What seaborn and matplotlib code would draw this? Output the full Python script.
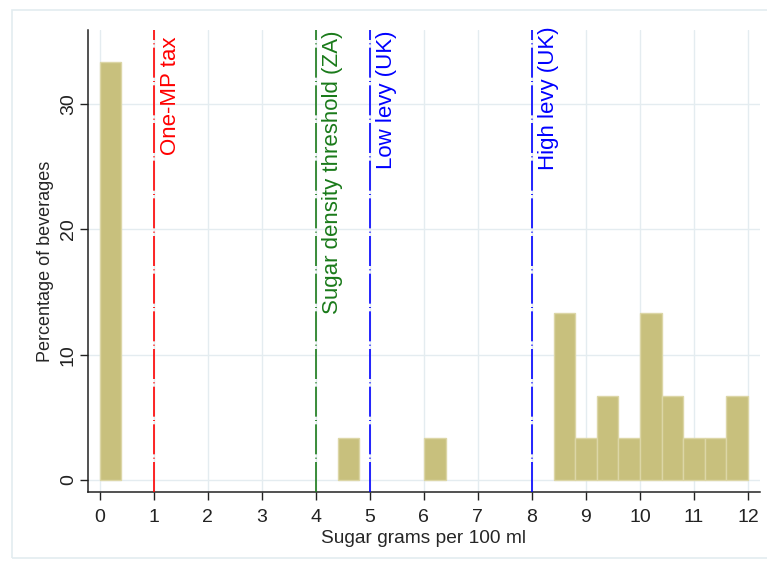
import matplotlib
matplotlib.use("Agg")
import matplotlib.pyplot as plt
from matplotlib.patches import Rectangle
import pandas as pd
import seaborn as sns

# histogram data (bin width 0.4 g, 30 beverages)
bin_mids = [0.2, 4.6, 6.2, 8.6, 9.0, 9.4, 9.8, 10.2, 10.6, 11.0, 11.4, 11.8]
pct = [33.33, 3.33, 3.33, 13.33, 3.33, 6.67, 3.33, 13.33, 6.67, 3.33, 3.33, 6.67]

# reference lines
thresholds = [1, 4, 5, 8]
thr_labels = ["One-MP tax", "Sugar density threshold (ZA)", "Low levy (UK)", "High levy (UK)"]
thr_colors = ["#ff0000", "#1a7a1a", "#0000ff", "#0000ff"]
thr_text_y = [35.4, 35.9, 35.9, 36.2]

xticks = list(range(0, 13))
yticks = [0, 10, 20, 30]

sns.set_theme(style="ticks")
plt.rcParams["font.family"] = ["Liberation Sans", "DejaVu Sans"]

df = pd.DataFrame({"sugar": bin_mids, "pct": pct})

fig = plt.figure(figsize=(7.67, 5.61), dpi=100)
# outer frame like Stata graph region
fig.patches.append(Rectangle((12 / 767, 0.005), 1.0, 1 - 10 / 561 - 0.005,
                             transform=fig.transFigure, fill=False,
                             edgecolor="#e3ecf0", lw=1.2))
ax = fig.add_axes([0.1147, 0.123, 0.876, 0.8235])

sns.histplot(data=df, x="sugar", weights="pct", binwidth=0.4, binrange=(0, 12),
             color="#c8c07d", edgecolor="#dcd6a6", linewidth=1.0, alpha=1,
             ax=ax, zorder=3)
# hide empty bins
for p in ax.patches:
    if p.get_height() == 0:
        p.set_visible(False)

ax.set_xlim(-0.22, 12.22)
ax.set_ylim(-0.96, 35.9)
ax.set_xticks(xticks)
ax.set_yticks(yticks)
ax.grid(True, color="#e4ecf0", lw=1.0, zorder=0)
ax.set_axisbelow(True)

for x, lab, c, ty in zip(thresholds, thr_labels, thr_colors, thr_text_y):
    ax.axvline(x, color=c, lw=1.2, ls=(0, (18, 2, 0.6, 2)), zorder=4)
    ax.text(x + 0.12, ty, lab, color=c, rotation=90, va="top", ha="left",
            fontsize=16, clip_on=False)

for s in ["top", "right"]:
    ax.spines[s].set_visible(False)
for s in ["left", "bottom"]:
    ax.spines[s].set_color("#222222")
    ax.spines[s].set_linewidth(1.1)

ax.tick_params(axis="both", colors="#222222", labelsize=14, length=6, width=1)
ax.tick_params(axis="x", pad=6)
ax.tick_params(axis="y", pad=2)
plt.setp(ax.get_yticklabels(), rotation=90, va="center")
ax.set_xlabel("Sugar grams per 100 ml", fontsize=13.8, labelpad=3)
ax.set_ylabel("Percentage of beverages", fontsize=13, labelpad=4)

fig.savefig("out.png", dpi=100, facecolor="white")
